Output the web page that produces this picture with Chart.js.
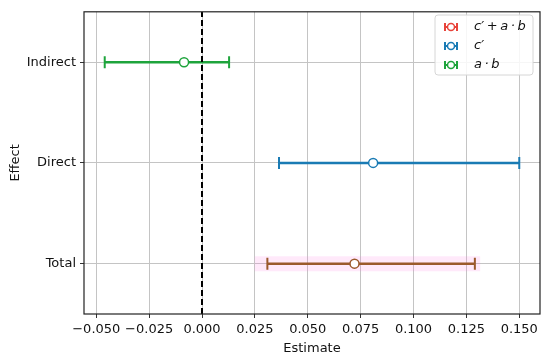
<!DOCTYPE html>
<html>
<head>
<meta charset="utf-8">
<script src="https://cdn.jsdelivr.net/npm/chart.js@4"></script>
<style>
  body { margin: 0; background: #fff; }
  #wrap { width: 550px; height: 360px; }
</style>
</head>
<body>
<div id="wrap"><canvas id="chart"></canvas></div>
<script>
// values
const categories = ['Total', 'Direct', 'Indirect'];
const estimates = [0.0721, 0.0809, -0.0085];
const lowers = [0.0309, 0.0364, -0.0460];
const uppers = [0.1290, 0.1500, 0.0128];
const barColors = ['#9b5a2c', '#1a7bb4', '#1ea43c'];
// faint band behind the total effect
const bandLow = 0.0249;
const bandHigh = 0.1315;
const xTicks = [-0.05, -0.025, 0, 0.025, 0.05, 0.075, 0.1, 0.125, 0.15];
const legendLabels = ["c\u2032\u2009+\u2009a\u2009\u00b7\u2009b", "c\u2032", "a\u2009\u00b7\u2009b"];
const legendColors = ['#e8433a', '#1a7bb4', '#1ea43c'];

const FONT = 'DejaVu Sans';
Chart.defaults.font.family = FONT;
Chart.defaults.color = '#111';

const datasets = [];

// zero reference line
datasets.push({
    type: 'line',
    data: [{x: 0, y: -0.5}, {x: 0, y: 2.5}],
    borderColor: '#000',
    borderWidth: 2,
    borderDash: [6, 3],
    pointRadius: 0,
    order: 1
});

datasets.push({
    type: 'line',
    data: [{x: bandLow, y: 0}, {x: bandHigh, y: 0}],
    borderColor: 'rgba(255, 120, 225, 0.16)',
    borderWidth: 15,
    pointRadius: 0,
    order: 5
});

categories.forEach((c, i) => {
    datasets.push({
        type: 'line',
        data: [{x: lowers[i], y: i}, {x: uppers[i], y: i}],
        borderColor: barColors[i],
        borderWidth: 2.5,
        pointStyle: 'line',
        rotation: 90,
        pointRadius: 6,
        pointBorderWidth: 2,
        pointBorderColor: barColors[i],
        order: 3
    });
    datasets.push({
        type: 'scatter',
        data: [{x: estimates[i], y: i}],
        pointStyle: 'circle',
        pointRadius: 4.5,
        pointBackgroundColor: '#fff',
        pointBorderColor: barColors[i],
        pointBorderWidth: 1.5,
        order: 0
    });
});

// box around the plot + matplotlib style legend
const framePlugin = {
    id: 'frame',
    afterDraw(chart) {
        const a = chart.chartArea;
        const g = chart.ctx;
        g.save();
        g.strokeStyle = '#222';
        g.lineWidth = 1.2;
        g.strokeRect(a.left, a.top, a.right - a.left, a.bottom - a.top);

        // legend box
        const bx = 435, by = 15, bw = 98, bh = 60;
        g.fillStyle = 'rgba(255,255,255,0.85)';
        g.strokeStyle = '#d6d6d6';
        g.lineWidth = 1;
        g.beginPath();
        g.roundRect(bx, by, bw, bh, 3);
        g.fill();
        g.stroke();
        legendLabels.forEach((lab, k) => {
            const y = 27 + k * 19;
            const x0 = 445, x1 = 457;
            g.strokeStyle = legendColors[k];
            g.lineWidth = 2;
            g.beginPath();
            g.moveTo(x0, y); g.lineTo(x1, y);
            g.moveTo(x0, y - 4); g.lineTo(x0, y + 4);
            g.moveTo(x1, y - 4); g.lineTo(x1, y + 4);
            g.stroke();
            g.beginPath();
            g.lineWidth = 1.5;
            g.fillStyle = '#fff';
            g.arc((x0 + x1) / 2, y, 3.5, 0, Math.PI * 2);
            g.fill();
            g.stroke();
            g.fillStyle = '#111';
            g.font = 'italic 13px ' + FONT;
            g.textBaseline = 'middle';
            g.textAlign = 'left';
            g.fillText(lab, 474, y);
        });
        g.restore();
    }
};

const ctx = document.getElementById('chart').getContext('2d');
const myChart = new Chart(ctx, {
    type: 'line',
    data: { datasets: datasets },
    options: {
        responsive: true,
        maintainAspectRatio: false,
        animation: false,
        layout: { padding: { top: 9, right: 10, left: 4, bottom: 0 } },
        plugins: { legend: { display: false }, tooltip: { enabled: false } },
        scales: {
            x: {
                type: 'linear',
                min: -0.0558,
                max: 0.1598,
                afterBuildTicks: s => { s.ticks = xTicks.map(v => ({value: v})); },
                afterFit: s => { s.height = 46; },
                ticks: {
                    font: { size: 13 },
                    color: '#111',
                    maxRotation: 0,
                    padding: 4,
                    callback: v => (v < 0 ? '\u2212' : '') + Math.abs(v).toFixed(3)
                },
                grid: { color: '#c4c4c4', lineWidth: 1, tickLength: 4, tickColor: '#333' },
                border: { display: false },
                title: { display: true, text: 'Estimate', font: { size: 13 }, color: '#111', padding: { top: 0 } }
            },
            y: {
                type: 'linear',
                min: -0.5,
                max: 2.5,
                afterBuildTicks: s => { s.ticks = categories.map((c, i) => ({value: i})); },
                afterFit: s => { s.width = 80; },
                ticks: {
                    font: { size: 13 },
                    color: '#111',
                    padding: 4,
                    callback: v => categories[v]
                },
                grid: { color: '#c4c4c4', lineWidth: 1, tickLength: 4, tickColor: '#333' },
                border: { display: false },
                title: { display: true, text: 'Effect', font: { size: 13 }, color: '#111' }
            }
        }
    },
    plugins: [framePlugin]
});
</script>
</body>
</html>
